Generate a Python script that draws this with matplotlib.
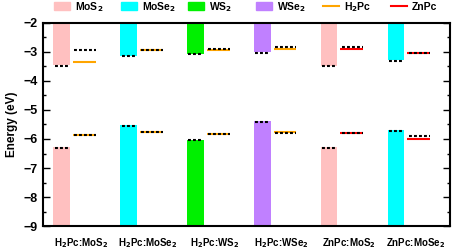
import matplotlib
matplotlib.use("Agg")
import matplotlib.pyplot as plt
import numpy as np
from matplotlib.patches import Rectangle
from matplotlib.lines import Line2D

plt.rcParams['font.family'] = ['Liberation Sans', 'DejaVu Sans']
plt.rcParams['font.weight'] = 'bold'

pairs = ['H$_2$Pc:MoS$_2$', 'H$_2$Pc:MoSe$_2$', 'H$_2$Pc:WS$_2$',
         'H$_2$Pc:WSe$_2$', 'ZnPc:MoS$_2$', 'ZnPc:MoSe$_2$']
tmd_names = ['MoS$_2$', 'MoSe$_2$', 'WS$_2$', 'WSe$_2$']
tmd_colors = ['#ffc0c0', '#00ffff', '#00f000', '#c080ff']
tmd_of_pair = [0, 1, 2, 3, 0, 1]
mol_names = ['H$_2$Pc', 'ZnPc']
mol_colors = ['#ffa500', '#ff0000']
mol_of_pair = [0, 0, 0, 0, 1, 1]

# isolated layers (coloured) and in the heterostructure (black dashes)
tmd_cbm = [-3.46, -3.14, -3.06, -2.99, -3.48, -3.29]
tmd_cbm_het = [-3.48, -3.15, -3.06, -3.02, -3.49, -3.31]
tmd_vbm = [-6.28, -5.53, -6.05, -5.38, -6.27, -5.68]
tmd_vbm_het = [-6.30, -5.56, -6.04, -5.40, -6.31, -5.71]
mol_lumo = [-3.36, -2.95, -2.92, -2.91, -2.90, -3.02]
mol_lumo_het = [-2.95, -2.95, -2.90, -2.84, -2.84, -3.03]
mol_homo = [-5.87, -5.75, -5.84, -5.76, -5.79, -6.01]
mol_homo_het = [-5.86, -5.77, -5.84, -5.79, -5.81, -5.89]

ymin, ymax = -9, -2
W, H = 457, 252

fig = plt.figure(figsize=(W / 100, H / 100), dpi=100)
ax = fig.add_axes([0.094, 0.103, 0.891, 0.806])

x = np.arange(len(pairs))
xb = x - 0.29
bw = 0.25
xm0 = x - 0.12
xm1 = x + 0.22
dash = (0, (1.4, 1.0))

for i in range(len(pairs)):
    c = tmd_colors[tmd_of_pair[i]]
    ax.bar(xb[i], tmd_vbm[i] - ymin, bottom=ymin, width=bw, color=c, zorder=1)
    ax.bar(xb[i], tmd_cbm[i] - ymax, bottom=ymax, width=bw, color=c, zorder=1)
    for v in (tmd_cbm_het[i], tmd_vbm_het[i]):
        ax.hlines(v, xb[i] - bw / 2 + 0.02, xb[i] + bw / 2 - 0.02, color='black',
                  lw=1.5, linestyles=dash, zorder=3)
    mc = mol_colors[mol_of_pair[i]]
    for v in (mol_lumo[i], mol_homo[i]):
        ax.hlines(v, xm0[i], xm1[i], color=mc, lw=1.5, zorder=2)
    for v in (mol_lumo_het[i], mol_homo_het[i]):
        ax.hlines(v, xm0[i] + 0.02, xm1[i], color='black', lw=1.5,
                  linestyles=dash, zorder=3)

ax.set_xlim(-0.57, 5.52)
ax.set_ylim(ymin, ymax)
ax.set_xticks(x)
ax.set_xticklabels(pairs, fontsize=7, fontweight='bold')
ax.tick_params(axis='x', length=0, pad=7)
ax.set_yticks(np.arange(-9, -1, 1))
ax.set_yticks(np.arange(-9, -2, 0.5), minor=True)
ax.tick_params(axis='y', which='both', direction='in', right=True, labelsize=9)
ax.tick_params(axis='y', which='major', length=5, width=1)
ax.tick_params(axis='y', which='minor', length=2.5, width=1)
for s in ax.spines.values():
    s.set_linewidth(1.5)
ax.set_ylabel('Energy (eV)', fontsize=8.5, fontweight='bold', labelpad=4)

# legend row above the plot, one entry per group slot
key_x = [54, 121, 188, 256, 323, 391]
for k, xp in enumerate(key_x):
    if k < 4:
        fig.patches.append(Rectangle((xp / W, 1 - 10 / H), 16 / W, 8 / H,
                                     color=tmd_colors[k], transform=fig.transFigure))
        label = tmd_names[k]
    else:
        fig.lines.append(Line2D([xp / W, (xp + 16) / W], [1 - 5.5 / H] * 2,
                                color=mol_colors[k - 4], lw=1.5,
                                transform=fig.transFigure))
        label = mol_names[k - 4]
    fig.text((xp + 21) / W, 1 - 7 / H, label, fontsize=7.5, fontweight='bold',
             va='center', ha='left')

fig.savefig('out.png', dpi=100)
